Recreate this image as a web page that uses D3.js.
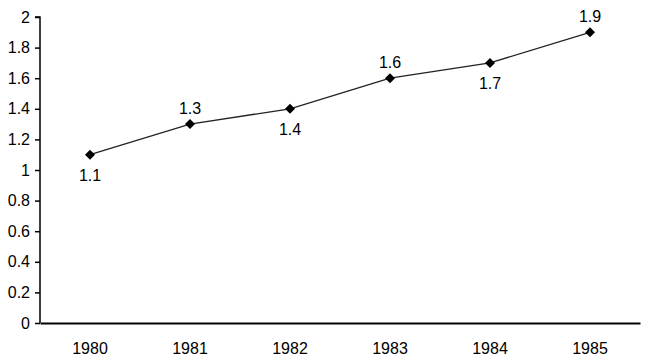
<!DOCTYPE html>
<html lang="en">
<head>
  <meta charset="UTF-8">
  <title>Line chart</title>
  <script src="https://d3js.org/d3.v7.min.js"></script>
  <style>
    body { margin: 0; background: #fff; }
    text { font-family: "Liberation Sans", Arial, sans-serif; font-size: 16px; fill: #000; }
  </style>
</head>
<body>
  <script>
    var years = ['1980', '1981', '1982', '1983', '1984', '1985'];
    var values = [1.1, 1.3, 1.4, 1.6, 1.7, 1.9];
    // label goes below (1) or above (-1) the point
    var labelSide = [1, -1, 1, -1, 1, -1];
    var yTicks = [0, 0.2, 0.4, 0.6, 0.8, 1, 1.2, 1.4, 1.6, 1.8, 2];

    var width = 651;
    var height = 360;
    var padding = { top: 17, left: 40, right: 11, bottom: 37 };

    var svg = d3.select('body')
      .append('svg')
      .attr('width', width)
      .attr('height', height);

    var xScale = d3.scaleBand()
      .domain(years)
      .range([padding.left, width - padding.right]);

    var yScale = d3.scaleLinear()
      .domain([0, 2])
      .range([height - padding.bottom, padding.top]);

    // y axis
    var yAxis = d3.axisLeft(yScale)
      .tickValues(yTicks)
      .tickSize(5)
      .tickPadding(5)
      .tickFormat(function (d) { return d3.format('~g')(d); });
    var gy = svg.append('g')
      .attr('transform', 'translate(' + padding.left + ',0)')
      .call(yAxis);
    gy.select('.domain').attr('stroke', '#000').attr('stroke-width', 1.5)
      .attr('d', 'M-5,' + yScale(2) + 'H0V' + yScale(0));
    gy.selectAll('.tick line').attr('stroke', '#000').attr('stroke-width', 1.5);
    gy.selectAll('text').style('font-size', '16px').attr('fill', '#000');

    // x axis
    var xAxis = d3.axisBottom(xScale).tickSize(0).tickPadding(20);
    var gx = svg.append('g')
      .attr('transform', 'translate(0,' + yScale(0) + ')')
      .call(xAxis);
    gx.select('.domain').attr('stroke', '#000').attr('stroke-width', 2);
    gx.selectAll('text').style('font-size', '16px').attr('fill', '#000');

    var pts = values.map(function (v, i) {
      return { x: xScale(years[i]) + xScale.bandwidth() / 2, y: yScale(v), v: v, side: labelSide[i] };
    });

    var line = d3.line()
      .x(function (d) { return d.x; })
      .y(function (d) { return d.y; });

    svg.append('path')
      .datum(pts)
      .attr('fill', 'none')
      .attr('stroke', '#222')
      .attr('stroke-width', 1.3)
      .attr('d', line);

    svg.selectAll('.marker')
      .data(pts)
      .enter()
      .append('path')
      .attr('class', 'marker')
      .attr('transform', function (d) { return 'translate(' + d.x + ',' + d.y + ')'; })
      .attr('d', 'M0,-5L5,0L0,5L-5,0Z')
      .attr('fill', '#000');

    svg.selectAll('.vlabel')
      .data(pts)
      .enter()
      .append('text')
      .attr('class', 'vlabel')
      .attr('x', function (d) { return d.x; })
      .attr('y', function (d) { return d.side > 0 ? d.y + 26 : d.y - 10; })
      .attr('text-anchor', 'middle')
      .text(function (d) { return d.v; });
  </script>
</body>
</html>
